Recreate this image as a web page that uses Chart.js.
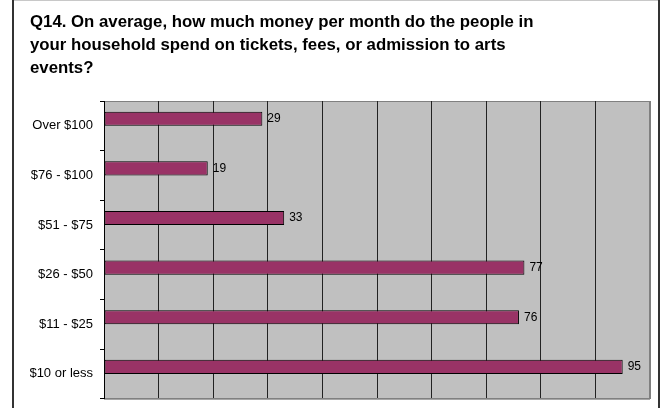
<!DOCTYPE html>
<html>
<head>
<meta charset="utf-8">
<script src="https://cdn.jsdelivr.net/npm/chart.js@4"></script>
<style>
  html, body { margin: 0; padding: 0; background: #fff; }
  #wrap { position: relative; width: 667px; height: 408px; }
</style>
</head>
<body>
<div id="wrap"><canvas id="c" width="667" height="408"></canvas></div>
<script>
const titleLines = [
  "Q14. On average, how much money per month do the people in",
  "your household spend on tickets, fees, or admission to arts",
  "events?"
];
const categories = ["Over $100", "$76 - $100", "$51 - $75", "$26 - $50", "$11 - $25", "$10 or less"];
const responses = [29, 19, 33, 77, 76, 95];
const axisMin = 0;
const axisMax = 100;
const axisStep = 10;

const FONT = "'Liberation Sans', Arial, sans-serif";

const framePlugin = {
  id: 'frame',
  beforeDraw(chart) {
    const ctx = chart.ctx;
    const a = chart.chartArea;
    ctx.save();
    ctx.fillStyle = '#c8c8c8';
    ctx.fillRect(13, 0, 646, 1);
    ctx.fillStyle = '#333333';
    ctx.fillRect(12, 0, 2, 408);
    ctx.fillRect(658, 0, 2, 408);
    ctx.fillStyle = '#c0c0c0';
    ctx.fillRect(a.left, a.top, a.right - a.left, a.bottom - a.top);
    ctx.strokeStyle = '#808080';
    ctx.lineWidth = 1;
    ctx.strokeRect(a.left + 0.5, a.top + 0.5, a.right - a.left - 1, a.bottom - a.top);
    ctx.restore();
  }
};

const labelPlugin = {
  id: 'barLabels',
  afterDatasetsDraw(chart) {
    const ctx = chart.ctx;
    const meta = chart.getDatasetMeta(0);
    ctx.save();
    ctx.font = '12px ' + FONT;
    ctx.fillStyle = '#000';
    ctx.textAlign = 'left';
    ctx.textBaseline = 'middle';
    meta.data.forEach((bar, i) => {
      const v = chart.data.datasets[0].data[i];
      ctx.fillText(String(v), bar.x + 5, bar.y);
    });
    ctx.restore();
  }
};

new Chart(document.getElementById('c'), {
  type: 'bar',
  data: {
    labels: categories,
    datasets: [
      {
        data: responses,
        backgroundColor: '#993366',
        borderColor: '#000000',
        borderWidth: 1,
        borderSkipped: false,
        categoryPercentage: 0.57,
        barPercentage: 1.0
      },
      {
        data: categories.map(() => null),
        backgroundColor: '#993366',
        categoryPercentage: 0.57,
        barPercentage: 1.0
      }
    ]
  },
  options: {
    indexAxis: 'y',
    responsive: false,
    animation: false,
    devicePixelRatio: 1,
    layout: { padding: { left: 30, right: 17, top: 0, bottom: 9.3 } },
    plugins: {
      legend: { display: false },
      tooltip: { enabled: false },
      title: {
        display: true,
        text: titleLines,
        align: 'start',
        color: '#000',
        font: { family: FONT, size: 16.8, weight: 'bold', lineHeight: '23px' },
        padding: { top: 11, bottom: 21 }
      }
    },
    scales: {
      x: {
        min: axisMin,
        max: axisMax,
        afterFit(scale) { scale.height = 0; },
        ticks: { stepSize: axisStep, display: false },
        grid: {
          drawTicks: false,
          color: (c) => (c.tick && c.tick.value === axisMax) ? '#808080' : '#222222',
          lineWidth: 1
        },
        border: { display: true, color: '#808080' }
      },
      y: {
        afterFit(scale) { scale.width = 74; scale.paddingTop = 0; scale.paddingBottom = 0; },
        ticks: { color: '#000', font: { family: FONT, size: 13 }, padding: 7 },
        grid: { drawOnChartArea: false, drawTicks: true, tickLength: 4, color: '#000', offset: true },
        border: { display: true, color: '#000' }
      }
    }
  },
  plugins: [framePlugin, labelPlugin]
});
</script>
</body>
</html>
